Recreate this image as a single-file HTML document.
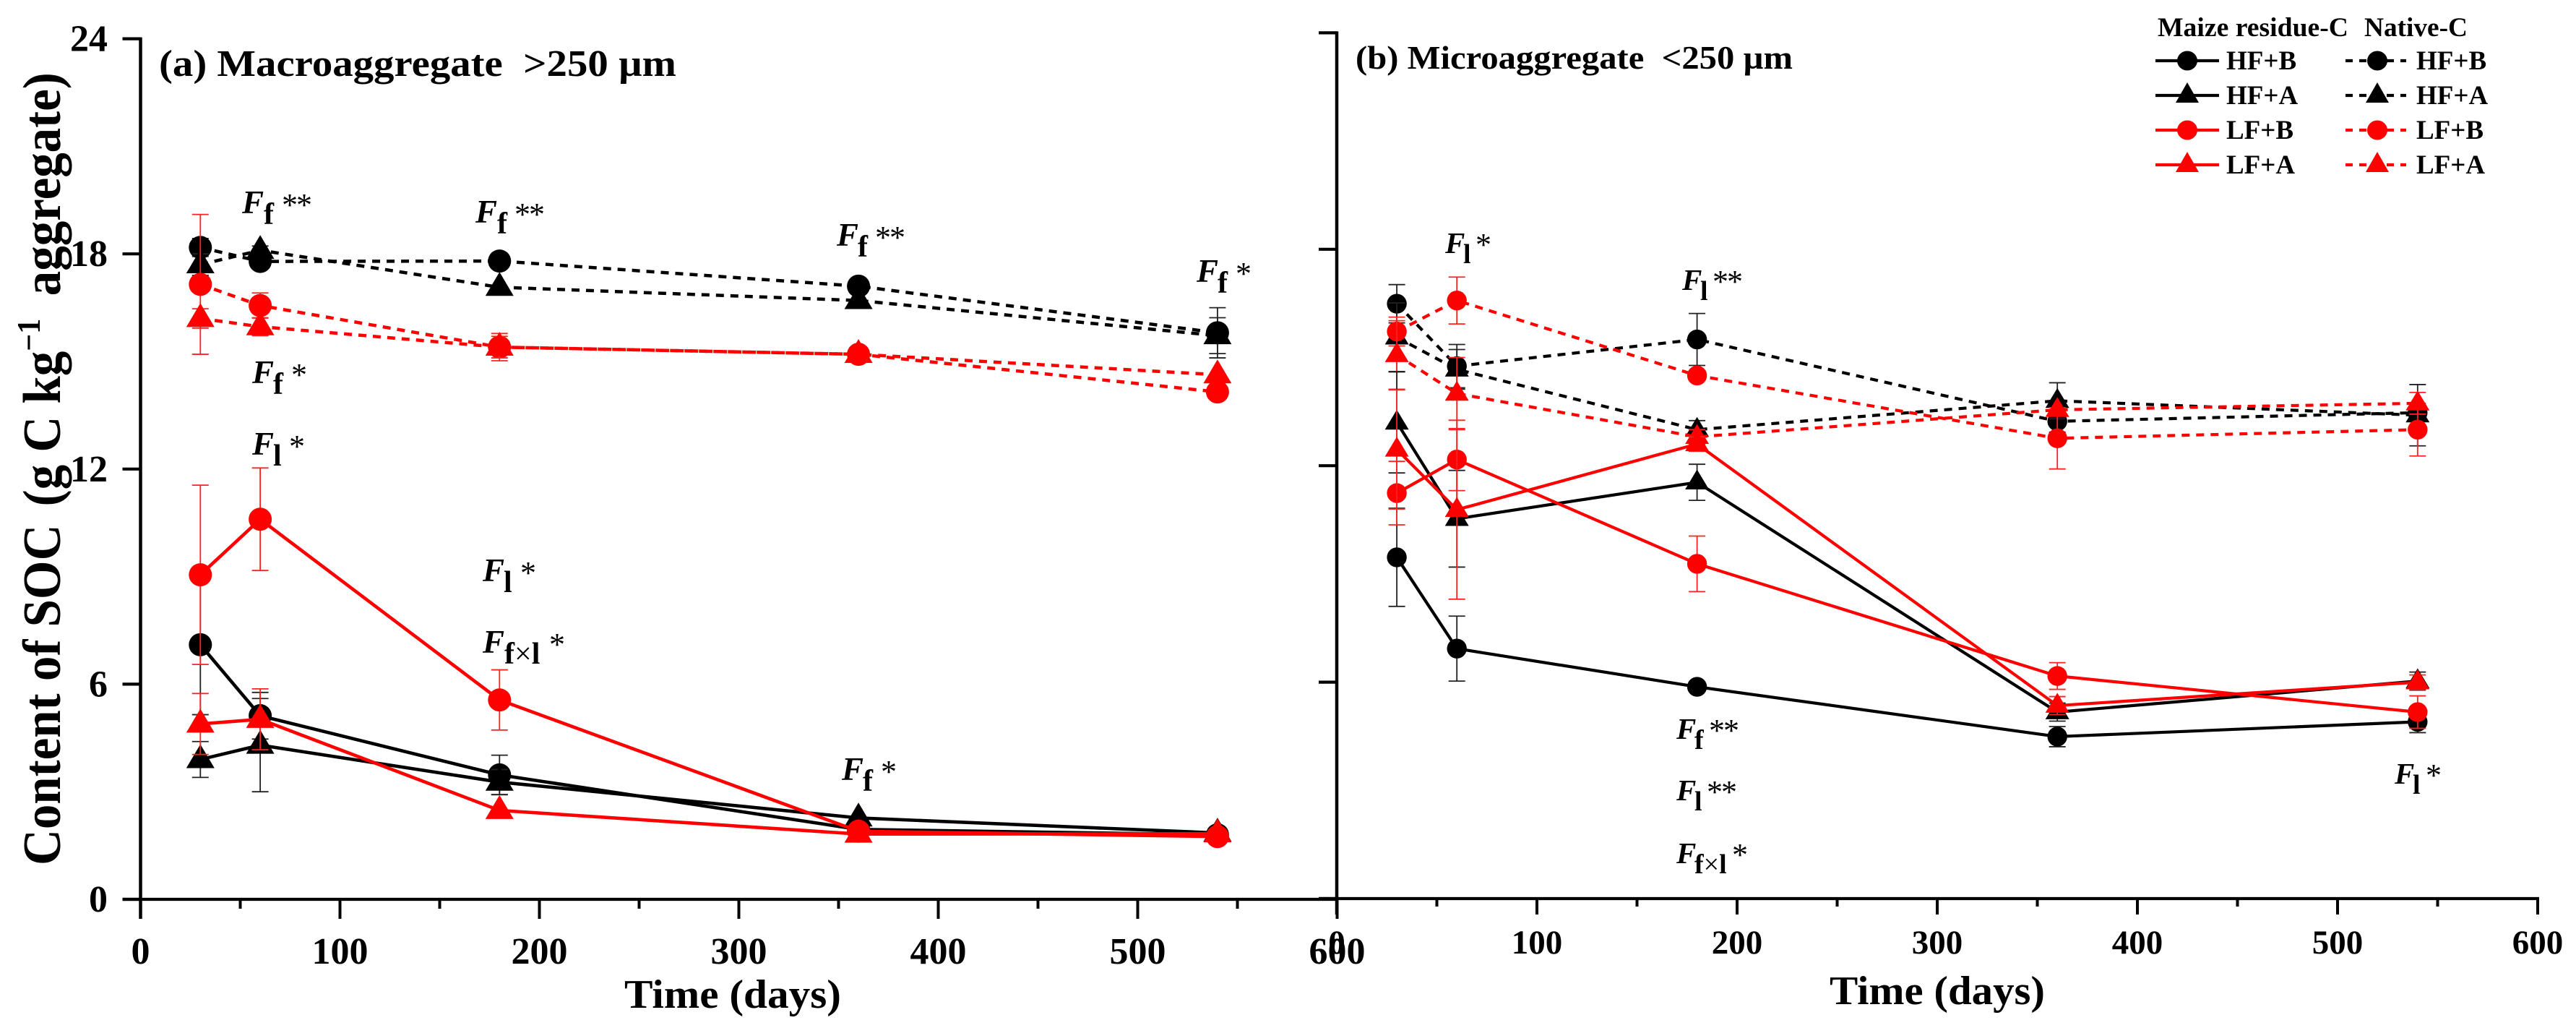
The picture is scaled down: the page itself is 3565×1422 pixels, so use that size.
<!DOCTYPE html>
<html lang="en">
<head>
<meta charset="utf-8">
<title>Content of SOC in aggregates</title>
<style>
html,body{margin:0;padding:0;background:#fff;}
svg{display:block;}
text{font-family:"Liberation Serif",serif;fill:#000;}
.b{font-weight:bold;}
.F{font-weight:bold;font-style:italic;font-size:45px;}
.Fb{font-weight:bold;font-style:italic;font-size:41px;}
.s{font-weight:bold;font-size:42px;}
.sb{font-weight:bold;font-size:38px;}
.st{font-size:44px;font-weight:normal;letter-spacing:-2px;}
.lg{font-weight:bold;font-size:37px;}
</style>
</head>
<body>
<svg id="chart" xmlns="http://www.w3.org/2000/svg" width="3565" height="1422" viewBox="0 0 3565 1422">
<rect width="3565" height="1422" fill="#fff"/>

<text class="b" font-size="69" transform="translate(83,1197) rotate(-90) scale(1,1.08)" xml:space="preserve">Content of SOC <tspan dx="8">(g C kg</tspan><tspan dy="-26" font-size="42">−1</tspan><tspan dy="26" dx="-3">&#160;&#160;aggregate)</tspan></text>

<text class="b" x="220" y="105" font-size="52" textLength="716" lengthAdjust="spacingAndGlyphs">(a) Macroaggregate&#160;&#160;&gt;250 µm</text>
<text class="b" x="1876" y="95" font-size="46" textLength="605" lengthAdjust="spacingAndGlyphs">(b) Microaggregate&#160;&#160;&lt;250 µm</text>

<text class="b" x="864" y="1394" font-size="56" textLength="300" lengthAdjust="spacingAndGlyphs">Time (days)</text>
<text class="b" x="2532" y="1389" font-size="56" textLength="298" lengthAdjust="spacingAndGlyphs">Time (days)</text>

<g id="axes"></g>
<g id="marks"></g>

<g>
<g><text class="F" x="335" y="295">F</text><text class="s" x="365" y="310">f</text><text class="st" x="390" y="298">**</text></g>
<g><text class="F" x="658" y="308">F</text><text class="s" x="688" y="323">f</text><text class="st" x="712" y="311">**</text></g>
<g><text class="F" x="1158" y="340">F</text><text class="s" x="1187" y="355">f</text><text class="st" x="1211" y="343">**</text></g>
<g><text class="F" x="1656" y="390">F</text><text class="s" x="1685" y="405">f</text><text class="st" x="1710" y="393">*</text></g>
<g><text class="F" x="349" y="530">F</text><text class="s" x="378" y="545">f</text><text class="st" x="403" y="533">*</text></g>
<g><text class="F" x="349" y="629">F</text><text class="s" x="378" y="644">l</text><text class="st" x="400" y="632">*</text></g>
<g><text class="F" x="668" y="804">F</text><text class="s" x="697" y="819">l</text><text class="st" x="720" y="807">*</text></g>
<g><text class="F" x="668" y="903">F</text><text class="s" x="698" y="918">f<tspan font-weight="normal">×</tspan>l</text><text class="st" x="760" y="906">*</text></g>
<g><text class="F" x="1165" y="1079">F</text><text class="s" x="1194" y="1094">f</text><text class="st" x="1219" y="1082">*</text></g>
</g>
<g>
<g><text class="Fb" x="2000" y="350">F</text><text class="sb" x="2025" y="364">l</text><text class="st" x="2042" y="353">*</text></g>
<g><text class="Fb" x="2328" y="401">F</text><text class="sb" x="2353" y="415">l</text><text class="st" x="2370" y="404">**</text></g>
<g><text class="Fb" x="2320" y="1022">F</text><text class="sb" x="2345" y="1036">f</text><text class="st" x="2365" y="1025">**</text></g>
<g><text class="Fb" x="2320" y="1107">F</text><text class="sb" x="2345" y="1121">l</text><text class="st" x="2362" y="1110">**</text></g>
<g><text class="Fb" x="2320" y="1194">F</text><text class="sb" x="2345" y="1208">f<tspan font-weight="normal">×</tspan>l</text><text class="st" x="2397" y="1197">*</text></g>
<g><text class="Fb" x="3314" y="1084">F</text><text class="sb" x="3339" y="1098">l</text><text class="st" x="3357" y="1087">*</text></g>
</g>

<g>
<text class="b" x="2986" y="50" font-size="37" textLength="264" lengthAdjust="spacingAndGlyphs">Maize residue-C</text>
<text class="b" x="3272" y="50" font-size="37" textLength="143" lengthAdjust="spacingAndGlyphs">Native-C</text>

<g><line x1="2983" x2="3071" y1="84" y2="84" stroke="#000" stroke-width="4.2"/><ellipse cx="3027" cy="84" rx="14" ry="13.5" fill="#000"/><text class="lg" x="3081" y="96">HF+B</text></g>
<g><line x1="2983" x2="3071" y1="132" y2="132" stroke="#000" stroke-width="4.2"/><polygon points="3027,114 3043,142 3011,142" fill="#000"/><text class="lg" x="3081" y="144">HF+A</text></g>
<g><line x1="2983" x2="3071" y1="180" y2="180" stroke="#f00" stroke-width="4.2"/><ellipse cx="3027" cy="180" rx="14" ry="13.5" fill="#f00"/><text class="lg" x="3081" y="192">LF+B</text></g>
<g><line x1="2983" x2="3071" y1="228" y2="228" stroke="#f00" stroke-width="4.2"/><polygon points="3027,210 3043,238 3011,238" fill="#f00"/><text class="lg" x="3081" y="240">LF+A</text></g>

<g><line x1="3246" x2="3330" y1="84" y2="84" stroke="#000" stroke-width="4.2" stroke-dasharray="10 9"/><ellipse cx="3290" cy="84" rx="14" ry="13.5" fill="#000"/><text class="lg" x="3344" y="96">HF+B</text></g>
<g><line x1="3246" x2="3330" y1="132" y2="132" stroke="#000" stroke-width="4.2" stroke-dasharray="10 9"/><polygon points="3290,114 3306,142 3274,142" fill="#000"/><text class="lg" x="3344" y="144">HF+A</text></g>
<g><line x1="3246" x2="3330" y1="180" y2="180" stroke="#f00" stroke-width="4.2" stroke-dasharray="10 9"/><ellipse cx="3290" cy="180" rx="14" ry="13.5" fill="#f00"/><text class="lg" x="3344" y="192">LF+B</text></g>
<g><line x1="3246" x2="3330" y1="228" y2="228" stroke="#f00" stroke-width="4.2" stroke-dasharray="10 9"/><polygon points="3290,210 3306,238 3274,238" fill="#f00"/><text class="lg" x="3344" y="240">LF+A</text></g>
</g>
</svg>

<script>
// ---------- data ----------
const days = [30, 60, 180, 360, 540];
const xMajorTicks = [0, 100, 200, 300, 400, 500, 600];
const xMinorTicks = [50, 150, 250, 350, 450, 550];
const yMajorTicks = [0, 6, 12, 18, 24];

// Panel (a) macroaggregate
const aNativeHfB = [18.18, 17.79, 17.8, 17.1, 15.8];
const aNativeHfBErr = [0.25, 0.2, 0, 0, 0.7];
const aNativeHfA = [17.7, 18.1, 17.07, 16.7, 15.72];
const aNativeHfAErr = [0.3, 0.12, 0, 0, 0.5];
const aNativeLfB = [17.15, 16.56, 15.4, 15.2, 14.15];
const aNativeLfBErr = [1.95, 0.35, 0.38, 0, 0];
const aNativeLfA = [16.2, 15.97, 15.4, 15.2, 14.63];
const aNativeLfAErr = [0.27, 0.25, 0.3, 0, 0];
const aMaizeHfB = [7.1, 5.12, 3.47, 1.95, 1.8];
const aMaizeHfBErr = [1.95, 0.65, 0.55, 0, 0];
const aMaizeHfA = [3.9, 4.3, 3.27, 2.27, 1.85];
const aMaizeHfAErr = [0.5, 1.3, 0.35, 0, 0];
const aMaizeLfB = [9.05, 10.6, 5.56, 1.9, 1.75];
const aMaizeLfBErr = [2.5, 1.43, 0.84, 0, 0];
const aMaizeLfA = [4.89, 5.02, 2.48, 1.82, 1.83];
const aMaizeLfAErr = [0.85, 0.85, 0, 0, 0];

// Panel (b) microaggregate
const bNativeHfB = [16.49, 14.76, 15.5, 13.23, 13.47];
const bNativeHfBErr = [0.53, 0.6, 0.72, 0.3, 0];
const bNativeHfA = [15.56, 14.67, 13.0, 13.8, 13.4];
const bNativeHfAErr = [0.95, 0.55, 0.25, 0.5, 0.85];
const bNativeLfB = [15.72, 16.58, 14.5, 12.76, 13.0];
const bNativeLfBErr = [0.4, 0.65, 0, 0.85, 0.73];
const bNativeLfA = [15.07, 14.0, 12.8, 13.55, 13.73];
const bNativeLfAErr = [0.95, 1.0, 0.2, 0, 0.3];
const bMaizeHfB = [9.46, 6.93, 5.87, 4.49, 4.9];
const bMaizeHfBErr = [1.36, 0.9, 0, 0.28, 0.3];
const bMaizeHfA = [13.2, 10.53, 11.54, 5.17, 6.03];
const bMaizeHfAErr = [1.4, 1.34, 0.5, 0.25, 0.25];
const bMaizeLfB = [11.24, 12.17, 9.28, 6.17, 5.17];
const bMaizeLfBErr = [0.88, 0.86, 0.77, 0.37, 0.45];
const bMaizeLfA = [12.45, 10.78, 12.6, 5.35, 6.0];
const bMaizeLfAErr = [1.65, 2.48, 0.2, 0.25, 0.2];

const seriesA = [
  {id:'a-native-hf-b', v:aNativeHfB, e:aNativeHfBErr, c:'#000', dash:true, m:'circle'},
  {id:'a-native-hf-a', v:aNativeHfA, e:aNativeHfAErr, c:'#000', dash:true, m:'triangle'},
  {id:'a-native-lf-b', v:aNativeLfB, e:aNativeLfBErr, c:'#f00', dash:true, m:'circle'},
  {id:'a-native-lf-a', v:aNativeLfA, e:aNativeLfAErr, c:'#f00', dash:true, m:'triangle'},
  {id:'a-maize-hf-b', v:aMaizeHfB, e:aMaizeHfBErr, c:'#000', dash:false, m:'circle'},
  {id:'a-maize-hf-a', v:aMaizeHfA, e:aMaizeHfAErr, c:'#000', dash:false, m:'triangle'},
  {id:'a-maize-lf-b', v:aMaizeLfB, e:aMaizeLfBErr, c:'#f00', dash:false, m:'circle'},
  {id:'a-maize-lf-a', v:aMaizeLfA, e:aMaizeLfAErr, c:'#f00', dash:false, m:'triangle'}
];
const seriesB = [
  {id:'b-native-hf-b', v:bNativeHfB, e:bNativeHfBErr, c:'#000', dash:true, m:'circle'},
  {id:'b-native-hf-a', v:bNativeHfA, e:bNativeHfAErr, c:'#000', dash:true, m:'triangle'},
  {id:'b-native-lf-b', v:bNativeLfB, e:bNativeLfBErr, c:'#f00', dash:true, m:'circle'},
  {id:'b-native-lf-a', v:bNativeLfA, e:bNativeLfAErr, c:'#f00', dash:true, m:'triangle'},
  {id:'b-maize-hf-b', v:bMaizeHfB, e:bMaizeHfBErr, c:'#000', dash:false, m:'circle'},
  {id:'b-maize-hf-a', v:bMaizeHfA, e:bMaizeHfAErr, c:'#000', dash:false, m:'triangle'},
  {id:'b-maize-lf-b', v:bMaizeLfB, e:bMaizeLfBErr, c:'#f00', dash:false, m:'circle'},
  {id:'b-maize-lf-a', v:bMaizeLfA, e:bMaizeLfAErr, c:'#f00', dash:false, m:'triangle'}
];

// ---------- axis functions ----------
const xA = t => 194.5 + 2.76 * t;
const yA = v => 1244 - 49.6 * v;
const xB = t => 1850 + 2.77 * t;
const yB = v => 1243 - 49.9 * v;

const NS = 'http://www.w3.org/2000/svg';
const axesG = document.getElementById('axes');
const marksG = document.getElementById('marks');

function make(parent, tag, props) {
  const el = document.createElementNS(NS, tag);
  for (const k in props) el.setAttribute(k, props[k]);
  parent.appendChild(el);
  return el;
}

function drawAxes(p, xf, yf, cfg) {
  const g = make(axesG, 'g', {});
  
  

  const yAxis = make(g, 'line', {x1:xf(0), x2:xf(0), y1:yf(24)-2, y2:cfg.xTickEnd, stroke:'#000', 'stroke-width':4.5});
  
  

  const xAxis = make(g, 'line', {x1:xf(0)-25, x2:xf(600)+2, y1:yf(0), y2:yf(0), stroke:'#000', 'stroke-width':4.2});
  
  

  yMajorTicks.forEach(v => {
    const t = make(g, 'line', {x1:xf(0)-25, x2:xf(0), y1:yf(v), y2:yf(v), stroke:'#000', 'stroke-width':4.2});
    
    
    if (cfg.yLabels) {
      const l = make(g, 'text', {x:149, y:yf(v)+17, 'text-anchor':'end', 'font-size':52, 'font-weight':'bold'});
      l.textContent = String(v);
      
      
    }
  });
  xMajorTicks.forEach(v => {
    const t = make(g, 'line', {x1:xf(v), x2:xf(v), y1:yf(0), y2:cfg.xTickEnd, stroke:'#000', 'stroke-width':4});
    
    
    const l = make(g, 'text', {x:xf(v), y:cfg.xLabelY, 'text-anchor':'middle', 'font-size':cfg.xLabelSize, 'font-weight':'bold'});
    l.textContent = String(v);
    
    
  });
  xMinorTicks.forEach(v => {
    const t = make(g, 'line', {x1:xf(v), x2:xf(v), y1:yf(0), y2:cfg.xMinorEnd, stroke:'#000', 'stroke-width':4});
    
    
  });
}

function drawSeries(s, xf, yf, st) {
  const g = make(marksG, 'g', {});
  
  

  // error bars
  days.forEach((d, i) => {
    if (!s.e[i]) return;
    const x = xf(d), hi = yf(s.v[i] + s.e[i]), lo = yf(s.v[i] - s.e[i]);
    const col = s.c === '#000' ? '#222' : '#f22';
    const bar = make(g, 'path', {
      d: 'M' + x + ' ' + hi + 'V' + lo + 'M' + (x - 11.5) + ' ' + hi + 'h23M' + (x - 11.5) + ' ' + lo + 'h23',
      fill: 'none', stroke: col, 'stroke-width': 1.8
    });
    
    
  });

  // connecting line
  const pts = days.map((d, i) => xf(d) + ',' + yf(s.v[i])).join(' ');
  const lineProps = {points: pts, fill: 'none', stroke: s.c, 'stroke-width': s.dash ? st.dashW : st.lineW};
  if (s.dash) lineProps['stroke-dasharray'] = '11 9';
  const line = make(g, 'polyline', lineProps);
  
  

  // point markers
  days.forEach((d, i) => {
    const x = xf(d), y = yf(s.v[i]);
    let mk;
    if (s.m === 'circle') {
      mk = make(g, 'circle', {cx: x, cy: y, r: st.r, fill: s.c});
    } else {
      const w = st.tw / 2, up = st.th * 0.64, dn = st.th * 0.36;
      mk = make(g, 'polygon', {points: x + ',' + (y - up) + ' ' + (x + w) + ',' + (y + dn) + ' ' + (x - w) + ',' + (y + dn), fill: s.c});
    }
    
    
  });
}

drawAxes('a', xA, yA, {yLabels:true, xTickEnd:1271, xMinorEnd:1257, xLabelY:1333, xLabelSize:52});
drawAxes('b', xB, yB, {yLabels:false, xTickEnd:1265, xMinorEnd:1254, xLabelY:1319, xLabelSize:47});
seriesA.forEach(s => drawSeries(s, xA, yA, {r:16, tw:39, th:33, lineW:4.6, dashW:4.5}));
seriesB.forEach(s => drawSeries(s, xB, yB, {r:13.7, tw:33, th:27.5, lineW:4.2, dashW:4.2}));
</script>
</body>
</html>
